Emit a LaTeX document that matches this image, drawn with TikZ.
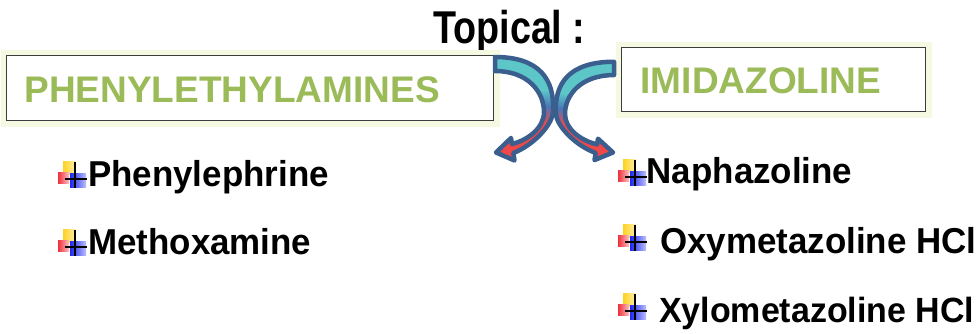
\documentclass[tikz,border=0pt]{standalone}
\usepackage{fontspec}
\setmainfont{Liberation Sans}
\newfontfamily\itemfont[FakeStretch=0.97]{Liberation Sans}
\newfontfamily\topfont[FakeStretch=0.82]{Liberation Sans}
\definecolor{hgreen}{HTML}{9BBB59}
\definecolor{glowc}{HTML}{F5F9E2}
\definecolor{aline}{HTML}{3A5F8F}
\definecolor{ateal}{HTML}{5CC6C8}
\definecolor{ablue}{HTML}{4A78B8}
\definecolor{ared}{HTML}{F04848}
\definecolor{boxline}{HTML}{3C3C3C}
\definecolor{byel}{HTML}{FFD21E}
\definecolor{bred}{HTML}{F0303A}
\definecolor{bblue}{HTML}{1E28F0}
\tikzset{
  hbox/.style={draw=boxline, line width=1.3pt, fill=white, anchor=north west, inner sep=0pt,
    preaction={draw=glowc, line width=12pt}},
  htext/.style={anchor=base west, inner sep=0pt, text=hgreen, font=\bfseries\fontsize{37}{40}\selectfont},
  itemtext/.style={anchor=base west, inner sep=0pt, font=\itemfont\bfseries\fontsize{36}{40}\selectfont},
  bul/.pic={
    \shade[left color=byel, right color=byel!35] (-12,-18) rectangle (1,-5);
    \shade[left color=bred, right color=bred!30] (-17,-7) rectangle (-6,4);
    \shade[left color=bblue, right color=bblue!30] (-5,-6) rectangle (11,8);
    \draw[black, line width=1.8pt] (0,-17) -- (0,9);
    \draw[black, line width=1.8pt] (-10,0) -- (12,0);
  },
  curvearrow/.pic={
    \begin{scope}
      \clip (495,57) .. controls (540,57) and (555,80) .. (553,112)
        .. controls (552,126) and (532,146) .. (513.3,153)
        -- (514.5,160.5) -- (496,152.5) -- (511,138) -- (512,144)
        .. controls (528,140) and (544,128) .. (544,112)
        .. controls (544,92) and (528,71) .. (495,71) -- cycle;
      \fill[ateal] (470,40) rectangle (580,90);
      \shade[top color=ateal, bottom color=ablue] (470,90) rectangle (580,106);
      \shade[top color=ablue, bottom color=ared] (470,106) rectangle (580,124);
      \fill[ared] (470,124) rectangle (580,175);
    \end{scope}
    \draw[aline, line width=4.5pt, line join=round]
      (495,57) .. controls (540,57) and (555,80) .. (553,112)
        .. controls (552,126) and (532,146) .. (513.3,153)
        -- (514.5,160.5) -- (496,152.5) -- (511,138) -- (512,144)
        .. controls (528,140) and (544,128) .. (544,112)
        .. controls (544,92) and (528,71) .. (495,71) -- cycle;
  }
}
\begin{document}
\begin{tikzpicture}[x=1pt,y=-1pt]
\useasboundingbox (0,0) rectangle (980,333);

% title
\node[anchor=base west, inner sep=0pt, font=\topfont\bfseries\fontsize{46}{50}\selectfont] (topical) at (433,43) {Topical :};

% header boxes
\node[hbox, minimum width=487pt, minimum height=65pt] (boxL) at (6,55) {};
\node[htext] (phen) at (24.3,102) {PHENYLETHYLAMINES};
\node[hbox, minimum width=304pt, minimum height=64pt] (boxR) at (621,47) {};
\node[htext] (imid) at (640.4,93) {IMIDAZOLINE};

% curved arrows
\pic at (0,0) {curvearrow};
\pic[xscale=-1, yscale=0.95] at (1109,7.6) {curvearrow};

% left list
\pic at (75,179) {bul};
\node[itemtext] (i1) at (88,186) {Phenylephrine};
\pic at (75,247) {bul};
\node[itemtext] (i2) at (88,254) {Methoxamine};

% right list
\pic at (635,177) {bul};
\node[itemtext] (j1) at (646.5,183) {Naphazoline};
\pic at (635,242) {bul};
\node[itemtext] (j2) at (660,253) {Oxymetazoline HCl};
\pic at (635,311) {bul};
\node[itemtext, font=\itemfont\bfseries\fontsize{35}{40}\selectfont] (j3) at (659,322) {Xylometazoline HCl};
\end{tikzpicture}
\end{document}
